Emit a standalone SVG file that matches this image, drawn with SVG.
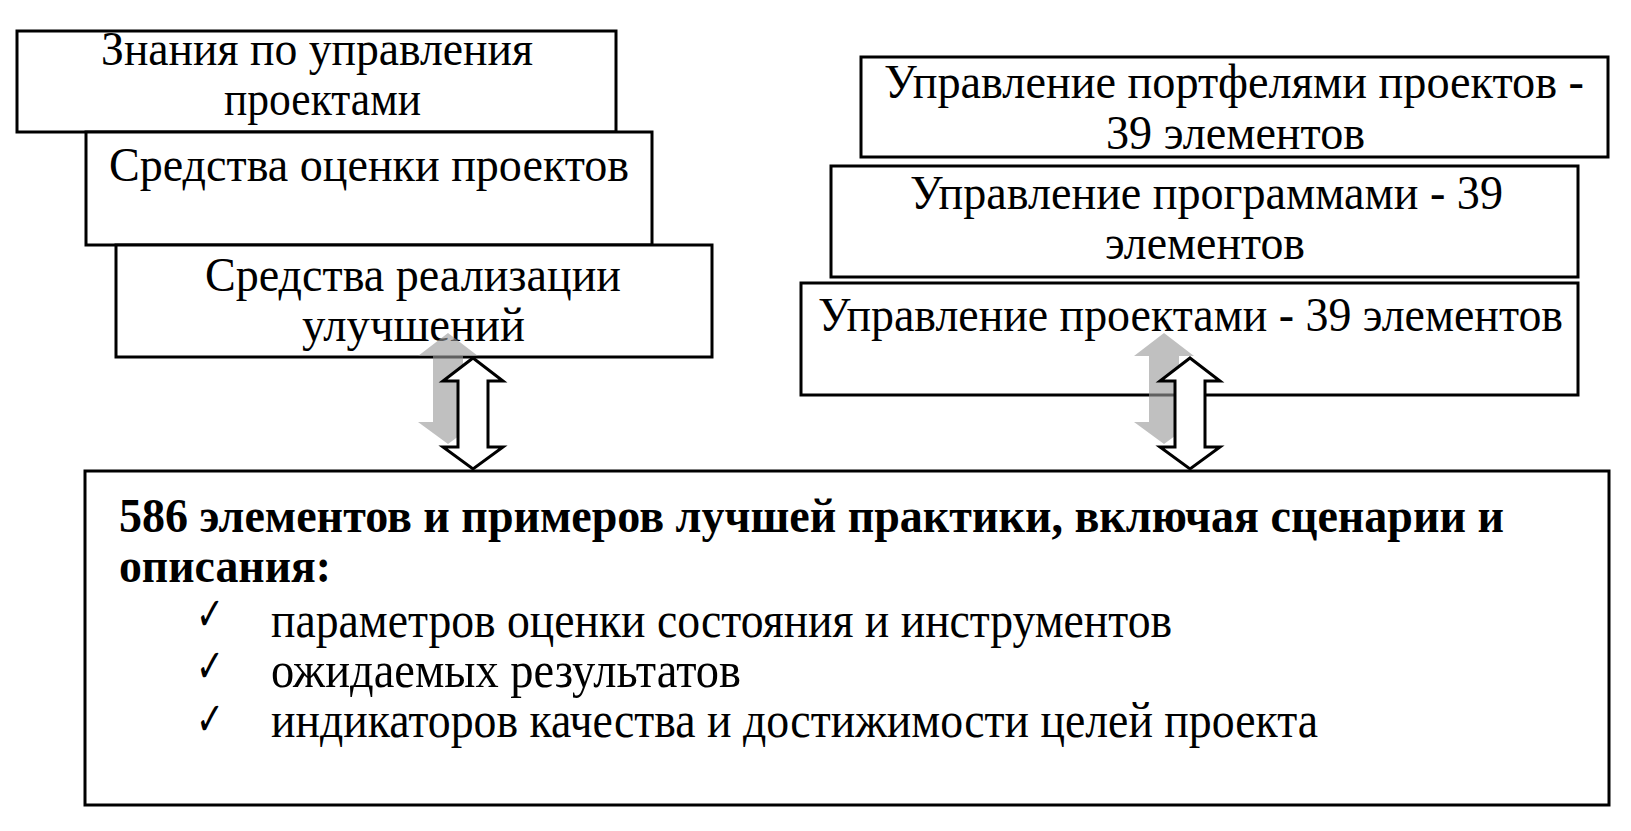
<svg xmlns="http://www.w3.org/2000/svg" width="1631" height="831" viewBox="0 0 1631 831">
<style>
.box{fill:#fff;stroke:#000;stroke-width:3}
.t{font-family:"Liberation Serif","Times New Roman",serif;font-size:48px;fill:#000}
.s{font-family:"Liberation Serif","Times New Roman",serif;font-size:50px;fill:#000}
.b{font-family:"Liberation Serif","Times New Roman",serif;font-size:48px;font-weight:bold;fill:#000}
.c{font-family:"DejaVu Sans",sans-serif;font-size:46px;fill:#000}
.shadow{fill:#999;fill-opacity:0.62}
.arrow{fill:#fff;stroke:#000;stroke-width:3;stroke-linejoin:miter}
</style>
<defs>
<path id="dbl" d="M0,0 L30,23 L15,23 L15,89 L30,89 L0,111 L-30,89 L-15,89 L-15,23 L-30,23 Z"/>
</defs>
<g id="node-knowledge">
<rect class="box" x="17" y="31" width="599" height="101"/>
<text class="t" x="101" y="65" textLength="432" lengthAdjust="spacingAndGlyphs">Знания по управления</text>
<text class="t" x="224" y="115" textLength="197" lengthAdjust="spacingAndGlyphs">проектами</text>
</g>
<g id="node-assessment">
<rect class="box" x="86" y="132" width="566" height="113"/>
<text class="t" x="109" y="181" textLength="520" lengthAdjust="spacingAndGlyphs">Средства оценки проектов</text>
</g>
<g id="node-improvement">
<rect class="box" x="116" y="245" width="596" height="112"/>
<text class="t" x="205" y="291" textLength="416" lengthAdjust="spacingAndGlyphs">Средства реализации</text>
<text class="t" x="302" y="341" textLength="223" lengthAdjust="spacingAndGlyphs">улучшений</text>
</g>
<g id="node-portfolio">
<rect class="box" x="861" y="57" width="747" height="100"/>
<text class="t" x="884" y="98" textLength="700" lengthAdjust="spacingAndGlyphs">Управление портфелями проектов -</text>
<text class="t" x="1106" y="149" textLength="259" lengthAdjust="spacingAndGlyphs">39 элементов</text>
</g>
<g id="node-programs">
<rect class="box" x="831" y="166" width="747" height="111"/>
<text class="t" x="910" y="209" textLength="593" lengthAdjust="spacingAndGlyphs">Управление программами - 39</text>
<text class="t" x="1105" y="259" textLength="200" lengthAdjust="spacingAndGlyphs">элементов</text>
</g>
<g id="node-projects">
<rect class="box" x="801" y="283" width="777" height="112"/>
<text class="t" x="818" y="331" textLength="745" lengthAdjust="spacingAndGlyphs">Управление проектами - 39 элементов</text>
</g>
<g id="node-practices">
<rect class="box" x="85" y="471" width="1524" height="334"/>
<text class="b" x="119" y="532" textLength="1385" lengthAdjust="spacingAndGlyphs">586 элементов и примеров лучшей практики, включая сценарии и</text>
<text class="b" x="119" y="582" textLength="212" lengthAdjust="spacingAndGlyphs">описания:</text>
<text class="c" x="196" y="630" textLength="28" lengthAdjust="spacingAndGlyphs">✓</text>
<text class="s" x="271" y="637" textLength="901" lengthAdjust="spacingAndGlyphs">параметров оценки состояния и инструментов</text>
<text class="c" x="196" y="682" textLength="28" lengthAdjust="spacingAndGlyphs">✓</text>
<text class="s" x="271" y="687" textLength="470" lengthAdjust="spacingAndGlyphs">ожидаемых результатов</text>
<text class="c" x="196" y="735" textLength="28" lengthAdjust="spacingAndGlyphs">✓</text>
<text class="s" x="271" y="737" textLength="1047" lengthAdjust="spacingAndGlyphs">индикаторов качества и достижимости целей проекта</text>
</g>
<g id="connectors">
<use href="#dbl" class="shadow" transform="translate(448,333)"/>
<use href="#dbl" class="arrow" transform="translate(473,358)"/>
<use href="#dbl" class="shadow" transform="translate(1164,333)"/>
<use href="#dbl" class="arrow" transform="translate(1190,358)"/>
</g>
</svg>
